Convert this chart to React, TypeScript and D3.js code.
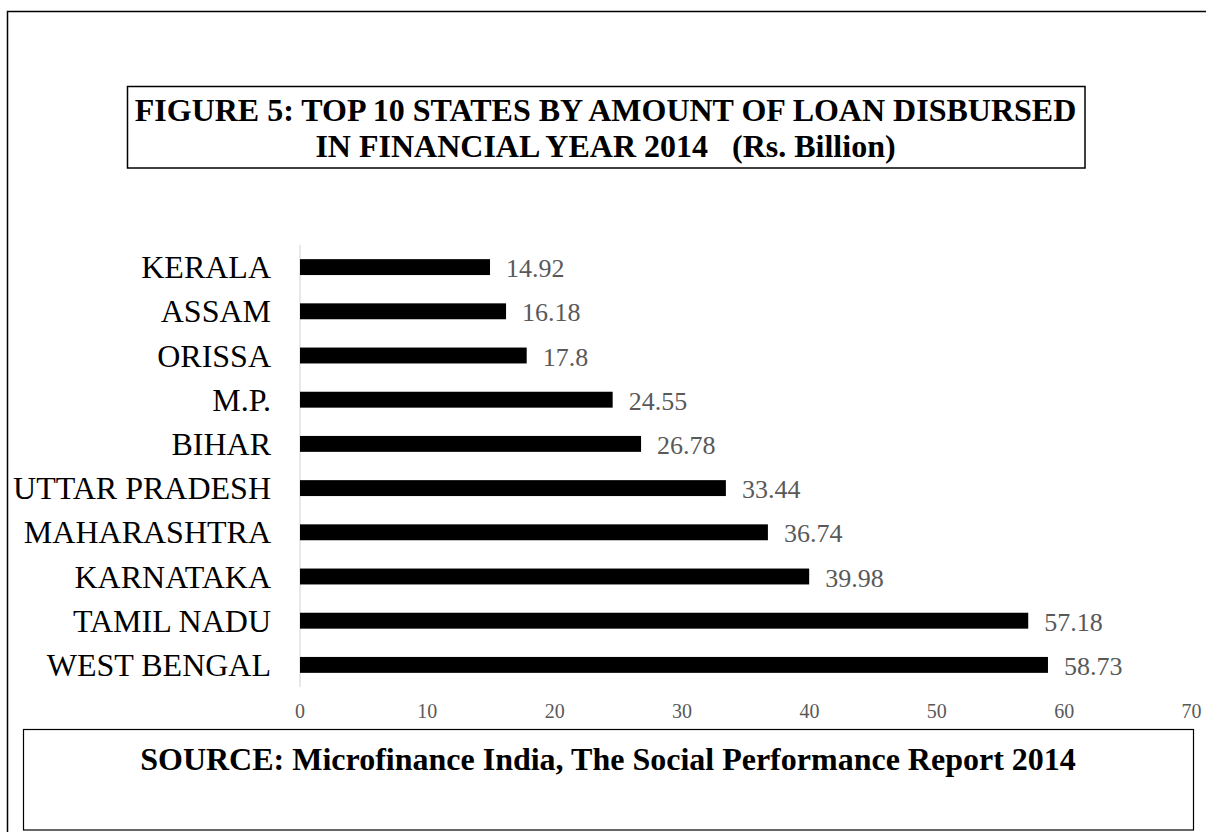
import React from "react";
import * as d3 from "d3";

const categories = [
  "KERALA",
  "ASSAM",
  "ORISSA",
  "M.P.",
  "BIHAR",
  "UTTAR PRADESH",
  "MAHARASHTRA",
  "KARNATAKA",
  "TAMIL NADU",
  "WEST BENGAL",
];
const values = [14.92, 16.18, 17.8, 24.55, 26.78, 33.44, 36.74, 39.98, 57.18, 58.73];
const valueLabels = ["14.92", "16.18", "17.8", "24.55", "26.78", "33.44", "36.74", "39.98", "57.18", "58.73"];
const xTicks = [0, 10, 20, 30, 40, 50, 60, 70];
const titleLine1 = "FIGURE 5: TOP 10 STATES BY AMOUNT OF LOAN DISBURSED";
const titleLine2 = "IN FINANCIAL YEAR 2014   (Rs. Billion)";
const sourceText = "SOURCE: Microfinance India, The Social Performance Report 2014";

const W = 1206;
const H = 832;
const FONT = "'Liberation Serif', 'Times New Roman', serif";

export default function App() {
  const x = d3.scaleLinear().domain([0, 70]).range([300, 1191.5]);
  const y = d3
    .scaleBand<string>()
    .domain(categories)
    .range([245, 687])
    .paddingInner(0.64)
    .paddingOuter(0.32);
  const bw = y.bandwidth();

  return (
    <svg
      width={W}
      height={H}
      style={{ position: "absolute", left: 0, top: 0, background: "#fff", display: "block", overflow: "hidden" }}
      fontFamily={FONT}
    >
      <rect x={0} y={0} width={W} height={H} fill="#fff" />
      {/* outer border */}
      <rect x={7.5} y={11.5} width={1300} height={900} fill="none" stroke="#000" strokeWidth={1.5} />

      {/* title box */}
      <rect x={127.5} y={86.5} width={957.5} height={81.5} fill="none" stroke="#000" strokeWidth={1.5} />
      <text x={605.5} y={121} textAnchor="middle" fontSize={32} fontWeight="bold" fill="#000">
        {titleLine1}
      </text>
      <text
        x={605.5}
        y={157}
        textAnchor="middle"
        fontSize={32}
        fontWeight="bold"
        fill="#000"
        style={{ whiteSpace: "pre" }}
      >
        {titleLine2}
      </text>

      {/* axis line */}
      <line x1={x(0)} x2={x(0)} y1={245} y2={687} stroke="#d9d9d9" strokeWidth={1.2} />

      {/* bars */}
      {categories.map((c, i) => {
        const yc = (y(c) as number) + bw / 2;
        return (
          <g key={c}>
            <rect x={x(0)} y={y(c)} width={x(values[i]) - x(0)} height={bw} fill="#000" />
            <text x={x(0) - 29} y={yc + 11} textAnchor="end" fontSize={32} fill="#000">
              {c}
            </text>
            <text x={x(values[i]) + 16} y={yc + 10} fontSize={26} fill="#595959">
              {valueLabels[i]}
            </text>
          </g>
        );
      })}

      {/* x tick labels */}
      {xTicks.map((t) => (
        <text key={t} x={x(t)} y={718} textAnchor="middle" fontSize={20} fill="#595959">
          {t}
        </text>
      ))}

      {/* source box */}
      <rect x={23.5} y={729.5} width={1170} height={100.5} fill="none" stroke="#000" strokeWidth={1.2} />
      <text x={608} y={770} textAnchor="middle" fontSize={32} fontWeight="bold" fill="#000">
        {sourceText}
      </text>
    </svg>
  );
}
